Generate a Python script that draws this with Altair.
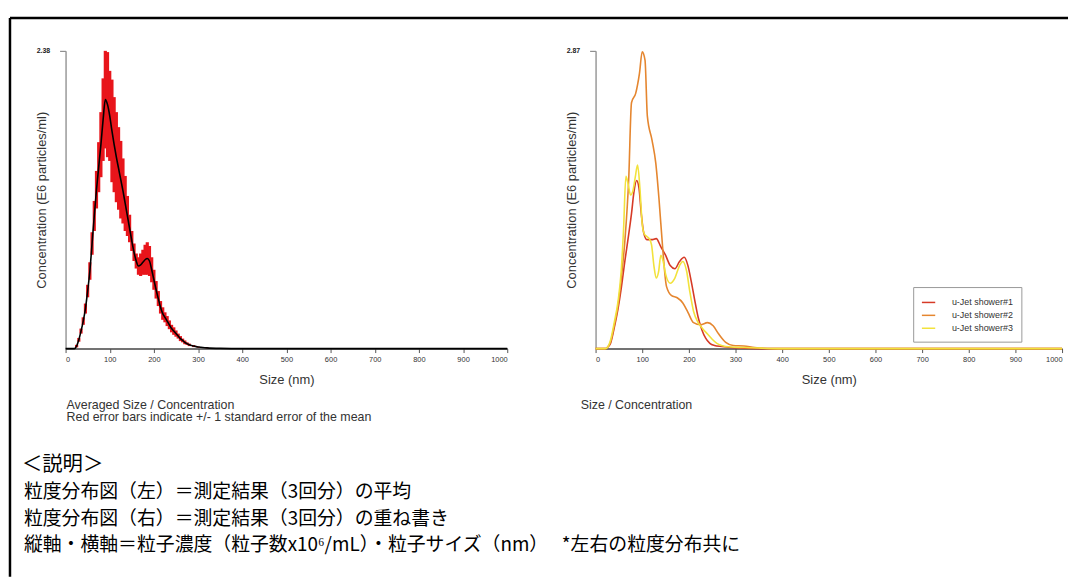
import altair as alt
import pandas as pd

FONT = "Liberation Sans"
JP = "Noto Sans CJK JP"

# ---------- Left panel: averaged size / concentration ----------
avg_size = [0, 20, 25, 30, 35, 40, 45, 50, 55, 60, 65, 70, 75, 80, 85, 90, 95, 100,
            105, 110, 115, 120, 125, 130, 135, 140, 145, 150, 155, 160, 165, 170, 175,
            180, 185, 190, 195, 200, 205, 210, 215, 220, 225, 230, 235, 240, 245, 250,
            255, 260, 265, 270, 275, 280, 290, 300, 320, 350, 400, 1000]
avg_conc = [0, 0, 0.02, 0.07, 0.14, 0.22, 0.32, 0.46, 0.62, 0.84, 1.06, 1.27, 1.45, 1.63,
            1.83, 1.99, 1.95, 1.86, 1.74, 1.63, 1.53, 1.44, 1.35, 1.26, 1.16, 1.06, 0.96,
            0.86, 0.77, 0.70, 0.66, 0.67, 0.69, 0.71, 0.72, 0.70, 0.63, 0.55, 0.47, 0.40,
            0.33, 0.28, 0.25, 0.22, 0.19, 0.16, 0.14, 0.12, 0.10, 0.08, 0.065, 0.05, 0.04,
            0.03, 0.02, 0.012, 0.006, 0.002, 0, 0]
avg_se = [0, 0, 0.01, 0.015, 0.02, 0.03, 0.04, 0.05, 0.07, 0.09, 0.12, 0.15, 0.2, 0.26,
          0.33, 0.39, 0.42, 0.36, 0.41, 0.38, 0.36, 0.33, 0.31, 0.26, 0.22, 0.16, 0.11,
          0.08, 0.07, 0.06, 0.07, 0.09, 0.1, 0.12, 0.13, 0.12, 0.1, 0.08, 0.07, 0.06,
          0.05, 0.05, 0.04, 0.04, 0.035, 0.03, 0.03, 0.025, 0.02, 0.02, 0.015, 0.015,
          0.01, 0.01, 0.008, 0.005, 0.003, 0.001, 0, 0]

# ---------- Right panel: three measurements overlaid ----------
series_names = ["u-Jet shower#1", "u-Jet shower#2", "u-Jet shower#3"]
series_colors = ["#d63a26", "#e5862f", "#f2e23c"]

s1_size = [0, 20, 25, 32, 40, 48, 55, 63, 71, 77, 82, 88, 93, 98, 103, 110, 120, 130, 140,
           150, 160, 170, 180, 190, 198, 205, 212, 220, 228, 236, 245, 255, 270, 290, 320,
           350, 400, 1000]
s1_conc = [0, 0, 0.01, 0.05, 0.2, 0.38, 0.58, 0.85, 1.1, 1.3, 1.5, 1.62, 1.55, 1.3, 1.12,
           1.05, 1.05, 1.06, 0.98, 0.9, 0.8, 0.77, 0.84, 0.88, 0.8, 0.65, 0.48, 0.3, 0.18,
           0.1, 0.05, 0.03, 0.02, 0.01, 0.003, 0, 0, 0]

s2_size = [0, 20, 25, 32, 40, 48, 55, 63, 71, 77, 86, 94, 100, 106, 111, 121, 129, 136, 144,
           152, 163, 175, 187, 198, 210, 225, 240, 252, 264, 279, 295, 318, 341, 380, 1000]
s2_conc = [0, 0, 0.01, 0.06, 0.22, 0.41, 0.67, 1.05, 1.63, 2.37, 2.46, 2.65, 2.86, 2.78,
           2.24, 2.01, 1.79, 1.44, 0.96, 0.60, 0.51, 0.49, 0.44, 0.35, 0.25, 0.23, 0.25,
           0.22, 0.14, 0.06, 0.03, 0.025, 0.01, 0, 0]

s3_size = [0, 20, 25, 32, 40, 48, 55, 60, 65, 70, 75, 80, 85, 90, 95, 100, 105, 110, 115,
           120, 125, 130, 135, 140, 145, 150, 160, 170, 180, 187, 195, 202, 210, 220, 230,
           240, 250, 260, 270, 290, 320, 350, 400, 1000]
s3_conc = [0, 0, 0.01, 0.08, 0.25, 0.45, 0.75, 1.15, 1.66, 1.58, 1.48, 1.52, 1.65, 1.77,
           1.55, 1.2, 1.1, 1.08, 1.06, 1.0, 0.8, 0.68, 0.74, 0.9, 0.84, 0.72, 0.63, 0.68,
           0.8, 0.84, 0.75, 0.55, 0.36, 0.25, 0.19, 0.14, 0.09, 0.05, 0.03, 0.015, 0.01,
           0.005, 0, 0]

x_ticks = list(range(0, 1001, 100))
left_ymax = 2.38
right_ymax = 2.87

left_caption = ["Averaged Size / Concentration",
                "Red error bars indicate +/- 1 standard error of the mean"]
right_caption = "Size / Concentration"
y_title = "Concentration (E6 particles/ml)"
x_title = "Size (nm)"

notes_heading = "＜説明＞"
notes_lines = ["粒度分布図（左）＝測定結果（3回分）の平均",
               "粒度分布図（右）＝測定結果（3回分）の重ね書き",
               "縦軸・横軸＝粒子濃度（粒子数x10⁶/mL）・粒子サイズ（nm）　 *左右の粒度分布共に"]

# ---------- build tables ----------
avg_df = pd.DataFrame({"size": avg_size, "conc": avg_conc, "se": avg_se})
rows = []
for name, xs, ys in zip(series_names, [s1_size, s2_size, s3_size],
                        [s1_conc, s2_conc, s3_conc]):
    for xv, yv in zip(xs, ys):
        rows.append({"series": name, "size": xv, "conc": yv})
multi_df = pd.DataFrame(rows)
one = pd.DataFrame({"k": [0]})

# layout (page px): left plot x 64..509, right plot x 598..1068, plots y 47..347
W_L, W_R, H = 445, 470, 300
GAP = 598 - (64 + W_L)


def x_enc(field="size:Q"):
    return alt.X(field, scale=alt.Scale(domain=[0, 1000], nice=False, zero=False),
                 axis=alt.Axis(values=x_ticks, format="d", title=x_title, grid=False,
                               labelFontSize=7.5, labelColor="#333", tickColor="#555",
                               tickSize=4, domainColor="#444", domainWidth=1.5,
                               labelPadding=3, titleFontSize=13, titleFontWeight="normal",
                               titleColor="#333", titleY=31, titleBaseline="middle"))


def y_enc(field, ymax):
    return alt.Y(field, scale=alt.Scale(domain=[0, ymax], nice=False),
                 axis=alt.Axis(values=[ymax], format=".2f", title=y_title, grid=False,
                               labelFontSize=7, labelFontWeight="bold", labelColor="#222",
                               tickSize=6, tickColor="#777", labelPadding=10,
                               domainColor="#999", domainWidth=1.5,
                               titleFontSize=13, titleFontWeight="normal", titleColor="#333",
                               titleX=-24, titleY=H / 2, titleAngle=270,
                               titleAlign="center", titleBaseline="middle"))


def text_layer(s, x, y, size, font=FONT, color="#333", baseline="middle", line_height=None):
    kw = {}
    if line_height is not None:
        kw["lineHeight"] = line_height
    return alt.Chart(one).mark_text(text=s, align="left", baseline=baseline,
                                    fontSize=size, font=font, color=color, **kw).encode(
        x=alt.value(x), y=alt.value(y))


err = alt.Chart(avg_df).transform_filter("datum.se > 0").transform_calculate(
    lo="datum.conc - datum.se", hi="datum.conc + datum.se"
).mark_rule(color="#e8151b", strokeWidth=3.2).encode(
    x=x_enc(), y=y_enc("lo:Q", left_ymax), y2="hi:Q")

mean_line = alt.Chart(avg_df).mark_line(color="black", strokeWidth=1.6,
                                         interpolate="monotone").encode(
    x="size:Q", y="conc:Q")

border_top = alt.Chart(one).mark_rule(color="black", strokeWidth=2.5).encode(
    x=alt.value(-56), x2=alt.value(1010), y=alt.value(-33))
border_left = alt.Chart(one).mark_rule(color="black", strokeWidth=2.5).encode(
    x=alt.value(-56), y=alt.value(-33), y2=alt.value(530))

JP_SIZE = 19
left_layers = [border_top, border_left, err, mean_line,
               text_layer(left_caption[0], 1, 357, 12.5),
               text_layer(left_caption[1], 1, 369, 12.5),
               text_layer(notes_heading, -44, 417, 20.5, JP, "black"),
               text_layer(notes_lines, -42, 445 + 0.3 * JP_SIZE, JP_SIZE, JP, "black",
                          baseline="alphabetic", line_height=26.6)]

left = alt.layer(*left_layers).properties(width=W_L, height=H)

right_lines = alt.Chart(multi_df).mark_line(strokeWidth=1.6, interpolate="monotone").encode(
    x=x_enc(), y=y_enc("conc:Q", right_ymax),
    color=alt.Color("series:N",
                    scale=alt.Scale(domain=series_names, range=series_colors),
                    legend=alt.Legend(orient="none", legendX=918 - 64, legendY=285 - 47,
                                      title=None, strokeColor="#999", fillColor="white",
                                      padding=8, labelFontSize=9, labelFont=FONT,
                                      labelColor="#333", labelOffset=16,
                                      symbolType="stroke", symbolSize=180,
                                      symbolStrokeWidth=1.5, rowPadding=0)),
    order=alt.Order("size:Q"))

right = alt.layer(right_lines, text_layer(right_caption, -15, 357, 12.5)).properties(
    width=W_R, height=H)

chart = alt.hconcat(left, right, spacing=GAP, bounds="flush").properties(
    padding={"left": 0, "top": 6, "right": 0, "bottom": 0}
).configure_view(stroke=None).configure_axis(labelFont=FONT, titleFont=FONT)

chart.save("out.html", embed_options={"renderer": "svg", "actions": False})
